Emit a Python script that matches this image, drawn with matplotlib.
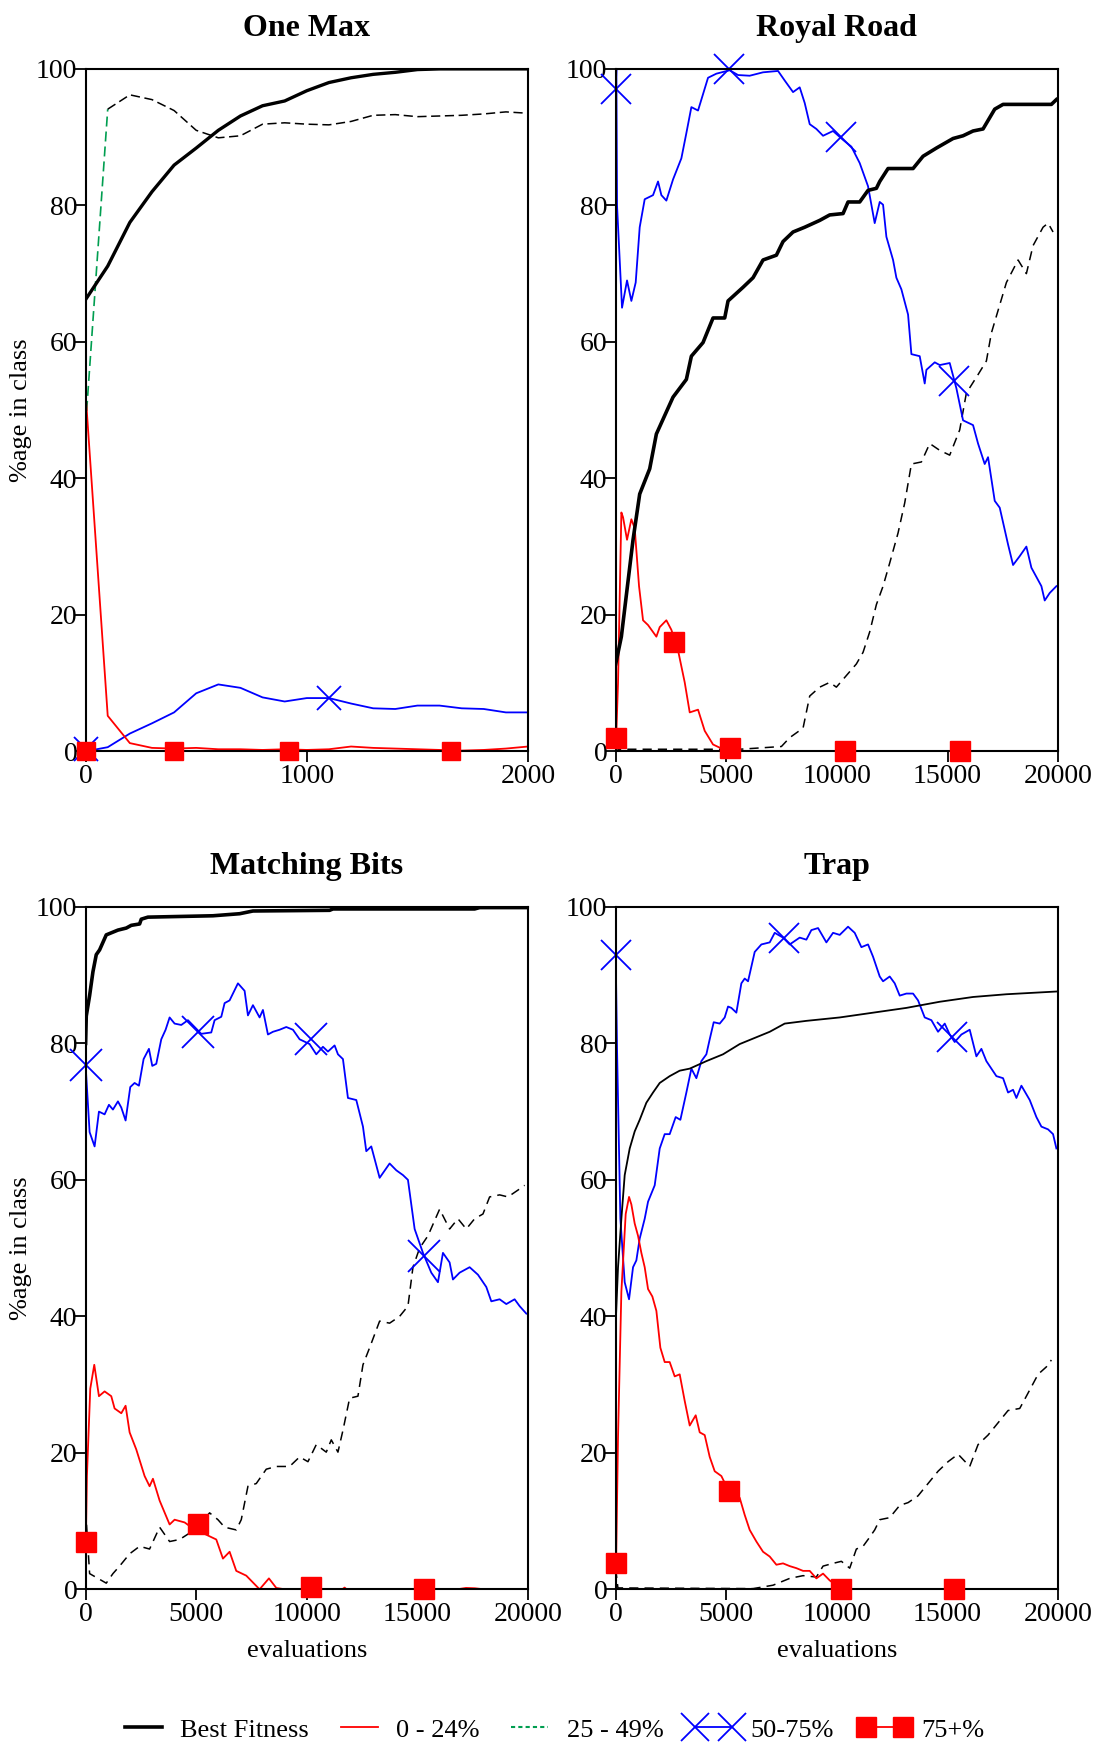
import numpy as np
import matplotlib
matplotlib.use("Agg")
import matplotlib.pyplot as plt
from matplotlib.lines import Line2D

plt.rcParams["font.family"] = ["Liberation Serif", "DejaVu Serif"]

BLUE = "#0000ff"
RED = "#ff0000"
GREEN = "#009e50"

# ---------------- One Max (0-2000 evaluations, every 100) ----------------
om_x = [0, 100, 200, 300, 400, 500, 600, 700, 800, 900, 1000,
        1100, 1200, 1300, 1400, 1500, 1600, 1700, 1800, 1900, 2000]
om_best = [66.2, 71.1, 77.5, 82.0, 85.9, 88.4, 91.0, 93.1, 94.6, 95.3, 96.8,
           98.0, 98.7, 99.2, 99.5, 99.9, 100, 100, 100, 100, 100]
om_low = [52.4, 5.2, 1.2, 0.5, 0.4, 0.5, 0.3, 0.3, 0.2, 0.3, 0.2,
          0.3, 0.7, 0.5, 0.4, 0.3, 0.2, 0.1, 0.2, 0.4, 0.7]
om_mid = [47.7, 94.1, 96.2, 95.5, 93.9, 91.0, 89.9, 90.2, 91.9, 92.1, 91.9,
          91.8, 92.3, 93.2, 93.3, 93.0, 93.1, 93.2, 93.4, 93.7, 93.5]
om_high = [0.0, 0.6, 2.6, 4.1, 5.7, 8.5, 9.8, 9.3, 7.9, 7.3, 7.8,
           7.8, 7.0, 6.3, 6.2, 6.7, 6.7, 6.3, 6.2, 5.7, 5.7]
om_cross = [(0, 0.3), (1100, 7.8)]
om_squares = [(0, 0.0), (400, 0.0), (920, 0.0), (1650, 0.0)]

# ---------------- Royal Road ----------------
rr_best = [(0, 12.8), (256, 16.8), (482, 22.9), (784, 31.0), (1085, 37.7), (1537, 41.4),
           (1839, 46.5), (2215, 49.2), (2592, 51.9), (3195, 54.5), (3421, 57.9), (3948, 59.9),
           (4400, 63.5), (4928, 63.5), (5079, 66.0), (5757, 68.0), (6209, 69.4), (6661, 72.0),
           (7264, 72.7), (7565, 74.7), (8017, 76.1), (8545, 76.8), (9223, 77.8), (9675, 78.6),
           (10278, 78.8), (10504, 80.5), (11031, 80.5), (11408, 82.2), (11785, 82.5),
           (11936, 83.5), (12312, 85.4), (13443, 85.4), (13895, 87.2), (14498, 88.4),
           (15251, 89.8), (15703, 90.2), (16155, 90.9), (16607, 91.2), (17135, 94.1),
           (17512, 94.8), (19697, 94.8), (19923, 95.5)]
rr_low = [(0, 0.0), (105, 10.0), (256, 35.0), (332, 34.3), (512, 31.0), (708, 34.0),
          (859, 32.7), (1055, 24.2), (1236, 19.2), (1462, 18.5), (1839, 16.8), (1990, 18.2),
          (2290, 19.2), (2517, 17.8), (2818, 14.8), (3120, 10.1), (3346, 5.7), (3722, 6.1),
          (4024, 3.0), (4400, 1.0), (4852, 0.3), (5606, 0.1), (6000, 0.0), (20000, 0.0)]
rr_mid = [(0, 1.1), (100, 0.3), (5606, 0.3), (7490, 0.7), (7866, 2.0), (8470, 3.4),
          (8771, 8.1), (9223, 9.4), (9675, 10.1), (9976, 9.4), (10428, 11.1), (10880, 12.8),
          (11182, 14.5), (11483, 17.5), (11785, 21.5), (12087, 24.2), (12388, 27.6),
          (12765, 32.0), (13066, 36.4), (13368, 42.1), (13820, 42.4), (14197, 45.1),
          (14649, 44.1), (15100, 43.4), (15552, 47.1), (15853, 52.5), (16381, 55.2),
          (16758, 57.2), (16984, 61.3), (17286, 64.6), (17663, 68.7), (18190, 72.0),
          (18566, 70.0), (18867, 74.1), (19320, 76.8), (19546, 77.4), (19772, 76.1)]
rr_high = [(0, 97.0), (30, 100.0), (60, 80.0), (286, 65.0), (512, 69.0), (708, 66.0),
           (904, 68.7), (1085, 76.8), (1311, 80.9), (1688, 81.5), (1914, 83.5), (2065, 81.5),
           (2290, 80.7), (2592, 83.8), (2969, 86.9), (3195, 90.6), (3421, 94.4), (3722, 93.9),
           (3948, 96.3), (4174, 98.7), (4551, 99.3), (5154, 99.8), (5531, 99.1), (6058, 99.0),
           (6661, 99.5), (7339, 99.7), (7640, 98.3), (8017, 96.6), (8318, 97.3), (8545, 95.0),
           (8771, 91.9), (9072, 91.2), (9374, 90.2), (9826, 90.9), (10278, 89.6),
           (10655, 88.6), (11031, 86.2), (11408, 82.8), (11709, 77.4), (11936, 80.5),
           (12087, 80.1), (12237, 75.4), (12539, 72.0), (12689, 69.4), (12915, 67.7),
           (13217, 64.0), (13368, 58.2), (13744, 57.9), (13970, 53.9), (14046, 55.9),
           (14423, 57.0), (14649, 56.6), (15100, 56.9), (15402, 53.2), (15703, 48.5),
           (16155, 47.8), (16381, 45.1), (16682, 42.1), (16833, 43.1), (17135, 36.7),
           (17361, 35.7), (17738, 30.3), (17964, 27.3), (18265, 28.6), (18566, 30.0),
           (18793, 26.9), (19245, 24.2), (19395, 22.1), (19621, 23.2), (19923, 24.2)]
rr_cross = [(0, 97.0), (5124, 100.0), (10202, 90.0), (15296, 54.3)]
rr_squares = [(0, 1.9), (2622, 16.0), (5184, 0.5), (10383, 0.1), (15582, 0.1)]

# ---------------- Matching Bits ----------------
mb_best = [(0, 80.0), (30, 84.0), (181, 87.0), (332, 90.5), (482, 93.0), (633, 93.7),
           (934, 95.9), (1085, 96.1), (1462, 96.6), (1839, 96.9), (2065, 97.3), (2441, 97.5),
           (2517, 98.2), (2818, 98.5), (5757, 98.7), (6963, 99.0), (7565, 99.4),
           (11031, 99.5), (11182, 99.7), (17587, 99.7), (17814, 99.9), (20000, 99.9)]
mb_low = [(0, 4.5), (60, 16.6), (211, 29.4), (392, 32.9), (603, 28.3), (859, 29.0),
          (1160, 28.3), (1311, 26.5), (1613, 25.8), (1808, 26.9), (1990, 23.0), (2290, 20.5),
          (2667, 16.6), (2893, 15.1), (3044, 16.2), (3346, 13.0), (3798, 9.5), (4024, 10.2),
          (4476, 9.8), (4777, 9.1), (5455, 8.0), (5907, 7.3), (6209, 4.5), (6510, 5.5),
          (6811, 2.7), (7264, 2.0), (7866, 0.0), (8288, 1.6), (8620, 0.2), (9000, 0.0),
          (11600, 0.0), (11709, 0.25), (11800, 0.0), (16800, 0.0), (17200, 0.2),
          (17600, 0.15), (18000, 0.0), (20000, 0.0)]
mb_mid = [(0, 11.7), (181, 2.3), (558, 1.6), (934, 0.9), (1236, 2.3), (1537, 3.4),
          (1990, 5.2), (2441, 6.3), (2893, 5.9), (3346, 9.1), (3798, 7.0), (4250, 7.3),
          (4777, 8.4), (5154, 9.5), (5606, 11.2), (5983, 10.2), (6284, 9.1), (6811, 8.7),
          (7037, 10.2), (7339, 15.1), (7716, 15.5), (8167, 17.6), (8620, 18.0), (9223, 18.0),
          (9675, 19.4), (10052, 18.7), (10428, 21.2), (10880, 20.1), (11107, 21.9),
          (11408, 20.1), (11634, 23.3), (11936, 28.0), (12312, 28.3), (12539, 32.9),
          (12840, 35.4), (13292, 39.3), (13744, 39.0), (14197, 40.0), (14573, 41.5),
          (14799, 47.2), (15100, 50.0), (15477, 51.8), (16004, 55.7), (16456, 52.8),
          (16833, 54.3), (17210, 52.8), (17587, 54.3), (17964, 55.0), (18265, 57.5),
          (18717, 57.8), (19094, 57.5), (19546, 58.5), (19847, 59.2)]
mb_high = [(0, 76.8), (181, 67.0), (407, 64.9), (603, 70.0), (859, 69.6), (1055, 71.0),
           (1236, 70.3), (1462, 71.5), (1613, 70.6), (1808, 68.7), (2019, 73.6), (2215, 74.2),
           (2411, 73.8), (2622, 77.7), (2863, 79.2), (3014, 76.7), (3195, 77.0), (3421, 80.6),
           (3617, 82.0), (3798, 83.8), (4024, 82.9), (4325, 82.7), (4626, 83.4), (4928, 82.4),
           (5229, 81.4), (5681, 81.6), (5832, 83.4), (6134, 83.9), (6284, 85.9), (6510, 86.3),
           (6661, 87.3), (6887, 88.8), (7188, 87.7), (7339, 84.1), (7565, 85.6), (7866, 83.8),
           (8017, 84.9), (8243, 81.3), (8470, 81.7), (8771, 82.0), (9072, 82.4), (9374, 82.0),
           (9675, 80.6), (10127, 79.9), (10428, 78.4), (10730, 79.5), (10956, 78.8),
           (11257, 79.7), (11408, 78.4), (11634, 77.7), (11860, 72.0), (12237, 71.7),
           (12539, 67.8), (12689, 64.2), (12915, 64.9), (13292, 60.3), (13744, 62.4),
           (14046, 61.4), (14347, 60.7), (14573, 60.0), (14875, 52.8), (15251, 49.3),
           (15628, 46.4), (15929, 45.0), (16155, 49.3), (16456, 47.9), (16607, 45.4),
           (16909, 46.4), (17361, 47.2), (17738, 46.1), (18115, 44.3), (18341, 42.2),
           (18717, 42.5), (19019, 41.8), (19395, 42.5), (19621, 41.5), (19923, 40.4)]
mb_cross = [(0, 76.8), (5079, 81.6), (10202, 80.6), (15296, 48.9)]
mb_squares = [(0, 7.0), (5079, 9.5), (10202, 0.4), (15281, 0.1)]

# ---------------- Trap ----------------
tr_best = [(0, 39.0), (105, 47.2), (256, 54.3), (407, 60.7), (633, 64.6), (859, 67.1),
           (1085, 68.8), (1386, 71.3), (1688, 72.8), (1990, 74.2), (2441, 75.2), (2893, 76.0),
           (3346, 76.3), (4099, 77.4), (4852, 78.4), (5606, 79.9), (6360, 80.9), (6963, 81.7),
           (7640, 82.9), (8620, 83.3), (10127, 83.8), (11634, 84.5), (13141, 85.2),
           (14649, 86.1), (16155, 86.8), (17663, 87.2), (19923, 87.6)]
tr_low = [(0, 0.2), (105, 22.3), (256, 43.6), (452, 55.0), (603, 57.5), (708, 56.4),
          (859, 53.6), (1010, 51.8), (1160, 49.3), (1311, 47.2), (1462, 44.0), (1658, 42.9),
          (1839, 40.8), (2019, 35.4), (2215, 33.3), (2441, 33.3), (2667, 31.2), (2893, 31.5),
          (3120, 27.6), (3346, 24.0), (3617, 25.5), (3798, 23.0), (4024, 22.6), (4250, 19.4),
          (4476, 17.3), (4777, 16.6), (5003, 15.1), (5305, 14.4), (5606, 13.4), (5832, 10.9),
          (6058, 8.7), (6360, 7.0), (6661, 5.5), (6963, 4.8), (7264, 3.6), (7565, 3.8),
          (7866, 3.4), (8167, 3.1), (8470, 2.7), (8771, 2.7), (9072, 1.6), (9374, 2.3),
          (9675, 1.3), (9976, 0.6), (10278, 0.0), (20000, 0.0)]
tr_mid = [(0, 3.0), (100, 0.2), (6209, 0.1), (7113, 0.6), (7866, 1.6), (8470, 2.0),
          (9072, 1.8), (9374, 3.4), (9826, 3.8), (10202, 4.1), (10579, 3.1), (10880, 5.9),
          (11182, 6.3), (11408, 7.3), (11709, 8.7), (11936, 10.2), (12388, 10.5),
          (12840, 12.3), (13217, 12.7), (13669, 13.7), (14121, 15.5), (14573, 17.3),
          (15025, 18.7), (15477, 19.8), (16004, 18.0), (16381, 21.2), (16833, 22.6),
          (17286, 24.4), (17738, 26.2), (18265, 26.5), (18566, 28.3), (19094, 31.5),
          (19471, 32.6), (19697, 33.6)]
tr_high = [(0, 93.0), (60, 79.2), (211, 54.3), (407, 45.0), (603, 42.5), (784, 47.2),
           (934, 48.2), (1085, 51.4), (1311, 54.3), (1462, 56.8), (1763, 59.2), (1990, 64.6),
           (2215, 66.7), (2441, 66.7), (2712, 69.2), (2924, 68.8), (3195, 72.8), (3421, 76.3),
           (3647, 74.9), (3873, 77.4), (4099, 78.4), (4250, 80.6), (4431, 83.1), (4702, 82.9),
           (4928, 83.8), (5079, 85.4), (5229, 85.2), (5455, 84.5), (5681, 88.8), (5832, 89.5),
           (5983, 89.1), (6284, 93.4), (6586, 94.5), (6963, 94.8), (7188, 96.2), (7565, 95.5),
           (7866, 94.5), (8318, 95.5), (8620, 95.2), (8846, 96.6), (9148, 96.9), (9524, 94.8),
           (9826, 96.2), (10127, 95.9), (10504, 97.1), (10805, 96.2), (11107, 94.1),
           (11408, 94.5), (11634, 92.7), (11936, 89.8), (12087, 89.1), (12388, 89.8),
           (12614, 88.8), (12840, 87.0), (13141, 87.3), (13443, 87.3), (13669, 86.3),
           (13970, 83.8), (14272, 83.4), (14573, 81.7), (14875, 82.9), (15100, 81.3),
           (15326, 80.2), (15628, 81.3), (16004, 82.0), (16306, 78.1), (16532, 79.2),
           (16758, 77.4), (17210, 75.2), (17512, 74.9), (17738, 72.8), (17964, 73.2),
           (18115, 72.0), (18341, 73.8), (18717, 71.7), (19019, 69.2), (19245, 67.8),
           (19546, 67.4), (19772, 66.7), (19923, 64.6)]
tr_cross = [(0, 93.0), (7595, 95.5), (15206, 80.9)]
tr_squares = [(0, 3.8), (5124, 14.4), (10202, 0.0), (15281, 0.0)]


def xy(pairs):
    a = np.array(pairs, dtype=float)
    return a[:, 0], a[:, 1]


W, H = 1097, 1742
fig = plt.figure(figsize=(W / 100, H / 100), dpi=100)

left_cols = [85.6 / W, 615.7 / W]
ax_w = 442.4 / W
ax_h = 682.4 / H
rows = [1 - 751.3 / H, 1 - 1589.3 / H]

panels = [
    dict(title="One Max", xmax=2000, xticks=[0, 1000, 2000],
         best=(om_x, om_best), low=(om_x, om_low), mid=(om_x, om_mid), high=(om_x, om_high),
         cross=om_cross, squares=om_squares, best_lw=2.4, xs=17, ss=13),
    dict(title="Royal Road", xmax=20000, xticks=[0, 5000, 10000, 15000, 20000],
         best=xy(rr_best), low=xy(rr_low), mid=xy(rr_mid), high=xy(rr_high),
         cross=rr_cross, squares=rr_squares, best_lw=2.6, xs=22, ss=14),
    dict(title="Matching Bits", xmax=20000, xticks=[0, 5000, 10000, 15000, 20000],
         best=xy(mb_best), low=xy(mb_low), mid=xy(mb_mid), high=xy(mb_high),
         cross=mb_cross, squares=mb_squares, best_lw=2.6, xs=23, ss=15),
    dict(title="Trap", xmax=20000, xticks=[0, 5000, 10000, 15000, 20000],
         best=xy(tr_best), low=xy(tr_low), mid=xy(tr_mid), high=xy(tr_high),
         cross=tr_cross, squares=tr_squares, best_lw=1.3, xs=22, ss=14),
]

for i, p in enumerate(panels):
    r, c = divmod(i, 2)
    ax = fig.add_axes([left_cols[c], rows[r], ax_w, ax_h])

    # 25-49% class: dashed, first stretch drawn green
    mx, my = np.asarray(p["mid"][0], float), np.asarray(p["mid"][1], float)
    if p["title"] == "One Max":
        ax.plot(mx[:2], my[:2], color=GREEN, lw=1.2, dashes=(6, 3))
        ax.plot(mx[1:], my[1:], color="black", lw=1.1, dashes=(6, 3))
    else:
        ax.plot(mx, my, color="black", lw=1.1, dashes=(6, 4))

    ax.plot(*p["high"], color=BLUE, lw=1.3)
    ax.plot(*p["low"], color=RED, lw=1.3)
    ax.plot([0, p["xmax"]], [0, 0], color=RED, lw=2.0)
    ax.plot(*p["best"], color="black", lw=p["best_lw"])

    cx, cy = xy(p["cross"])
    ax.plot(cx, cy, ls="none", marker="x", ms=p["xs"], mew=1.3, color=BLUE, clip_on=False)
    sx, sy = xy(p["squares"])
    ax.plot(sx, sy, ls="none", marker="s", ms=p["ss"], color=RED, clip_on=False, zorder=5)

    ax.set_xlim(0, p["xmax"])
    ax.set_ylim(0, 100)
    ax.set_xticks(p["xticks"])
    ax.set_yticks([0, 20, 40, 60, 80, 100])
    ax.tick_params(axis="y", direction="out", length=8, width=1.3, pad=-2, labelsize=20)
    ax.tick_params(axis="x", direction="out", length=8, width=1.3, pad=1, labelsize=20)
    for s in ax.spines.values():
        s.set_linewidth(1.5)
    ax.set_title(p["title"], fontsize=23, fontweight="bold", pad=24)

    if c == 0:
        ax.set_ylabel("%age in class", fontsize=19)
        ax.yaxis.set_label_coords(-0.122, 0.5)
    if r == 1:
        ax.set_xlabel("evaluations", fontsize=19)
        ax.xaxis.set_label_coords(0.5, -0.075)

handles = [
    Line2D([], [], color="black", lw=2.6),
    Line2D([], [], color=RED, lw=1.3),
    Line2D([], [], color=GREEN, lw=1.5, dashes=(2, 1.5)),
    Line2D([], [], color=BLUE, lw=1.3, marker="x", ms=20, mew=1.3),
    Line2D([], [], color=RED, lw=1.3, marker="s", ms=14),
]
labels = ["Best Fitness", "0 - 24%", "25 - 49%", "50-75%", "75+%"]
fig.legend(handles, labels, loc="center", bbox_to_anchor=(0.502, 0.0069), ncol=5,
           frameon=False, fontsize=19, handlelength=2.0, numpoints=2,
           handletextpad=0.4, columnspacing=0.9)

fig.savefig("out.png", dpi=100)
